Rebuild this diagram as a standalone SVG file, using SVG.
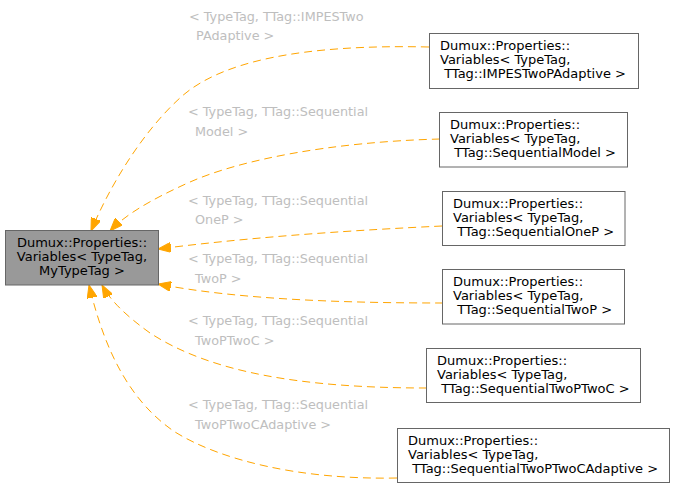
<svg xmlns="http://www.w3.org/2000/svg" width="676" height="487" viewBox="0 0 676 487">
<style>
  .node rect { fill: #ffffff; stroke: #666666; stroke-width: 1; }
  .node.main rect { fill: #999999; }
  .node text { font-family: "DejaVu Sans", sans-serif; font-size: 13px; fill: #000000; }
  .edge path { fill: none; stroke: #ffa500; stroke-width: 1; stroke-dasharray: 8,5; }
  .lbl { font-family: "DejaVu Sans", sans-serif; font-size: 12.8px; fill: #bebebe; }
</style>
<defs>
  <marker id="ah" markerUnits="userSpaceOnUse" viewBox="0 0 13 10" refX="13" refY="5" markerWidth="13" markerHeight="10" orient="auto">
    <path d="M0,0 L13,5 L0,10 z" fill="#ffa500" stroke="#ffa500" stroke-width="1"/>
  </marker>
</defs>
<rect width="676" height="487" fill="#ffffff"/>
<g id="edges" class="edge">
  <path d="M429,47 C300,44 220,62 181,97 C140,134 108,190 91,231" marker-end="url(#ah)"/>
  <path d="M440,139 C330,142 240,160 190,182 C150,200 125,215 110,231" marker-end="url(#ah)"/>
  <path d="M442,226 C360,230 260,236 158,249" marker-end="url(#ah)"/>
  <path d="M443,303 C350,303 240,300 158,284" marker-end="url(#ah)"/>
  <path d="M427,388 C300,388 210,372 150,333 C125,315 110,300 102,285" marker-end="url(#ah)"/>
  <path d="M397,478 C300,480 220,460 175,432 C120,395 100,330 89,285" marker-end="url(#ah)"/>
</g>
<g id="labels">
  <text class="lbl" x="189" y="20.5">&lt; TypeTag, TTag::IMPESTwo</text>
  <text class="lbl" x="196" y="40">PAdaptive &gt;</text>
  <text class="lbl" x="188" y="116">&lt; TypeTag, TTag::Sequential</text>
  <text class="lbl" x="195" y="135.5">Model &gt;</text>
  <text class="lbl" x="188" y="204.5">&lt; TypeTag, TTag::Sequential</text>
  <text class="lbl" x="195" y="224">OneP &gt;</text>
  <text class="lbl" x="188" y="262.5">&lt; TypeTag, TTag::Sequential</text>
  <text class="lbl" x="195" y="282.5">TwoP &gt;</text>
  <text class="lbl" x="188" y="325">&lt; TypeTag, TTag::Sequential</text>
  <text class="lbl" x="195" y="344.5">TwoPTwoC &gt;</text>
  <text class="lbl" x="188" y="408.5">&lt; TypeTag, TTag::Sequential</text>
  <text class="lbl" x="195" y="428.5">TwoPTwoCAdaptive &gt;</text>
</g>
<g id="main" class="node main">
  <rect x="5.5" y="230.5" width="153" height="54.5"/>
  <text x="82" y="247" text-anchor="middle">Dumux::Properties::</text>
  <text x="82" y="261" text-anchor="middle">Variables&lt; TypeTag,</text>
  <text x="82" y="275" text-anchor="middle">MyTypeTag &gt;</text>
</g>
<g id="n1" class="node">
  <rect x="429.5" y="33.5" width="209" height="55"/>
  <text x="440" y="50">Dumux::Properties::</text>
  <text x="440" y="64">Variables&lt; TypeTag,</text>
  <text x="440" y="78" xml:space="preserve"> TTag::IMPESTwoPAdaptive &gt;</text>
</g>
<g id="n2" class="node">
  <rect x="439.5" y="112.5" width="188" height="54.5"/>
  <text x="450" y="129">Dumux::Properties::</text>
  <text x="450" y="143">Variables&lt; TypeTag,</text>
  <text x="450" y="157" xml:space="preserve"> TTag::SequentialModel &gt;</text>
</g>
<g id="n3" class="node">
  <rect x="442.5" y="191.5" width="182.5" height="54"/>
  <text x="453" y="208">Dumux::Properties::</text>
  <text x="453" y="222">Variables&lt; TypeTag,</text>
  <text x="453" y="236" xml:space="preserve"> TTag::SequentialOneP &gt;</text>
</g>
<g id="n4" class="node">
  <rect x="442.5" y="269.5" width="182" height="54.5"/>
  <text x="453" y="286">Dumux::Properties::</text>
  <text x="453" y="300">Variables&lt; TypeTag,</text>
  <text x="453" y="314" xml:space="preserve"> TTag::SequentialTwoP &gt;</text>
</g>
<g id="n5" class="node">
  <rect x="426.5" y="348.5" width="214" height="54"/>
  <text x="437" y="365">Dumux::Properties::</text>
  <text x="437" y="379">Variables&lt; TypeTag,</text>
  <text x="437" y="393" xml:space="preserve"> TTag::SequentialTwoPTwoC &gt;</text>
</g>
<g id="n6" class="node">
  <rect x="397.5" y="428.5" width="272" height="54"/>
  <text x="408" y="445">Dumux::Properties::</text>
  <text x="408" y="459">Variables&lt; TypeTag,</text>
  <text x="408" y="473" xml:space="preserve"> TTag::SequentialTwoPTwoCAdaptive &gt;</text>
</g>
</svg>
